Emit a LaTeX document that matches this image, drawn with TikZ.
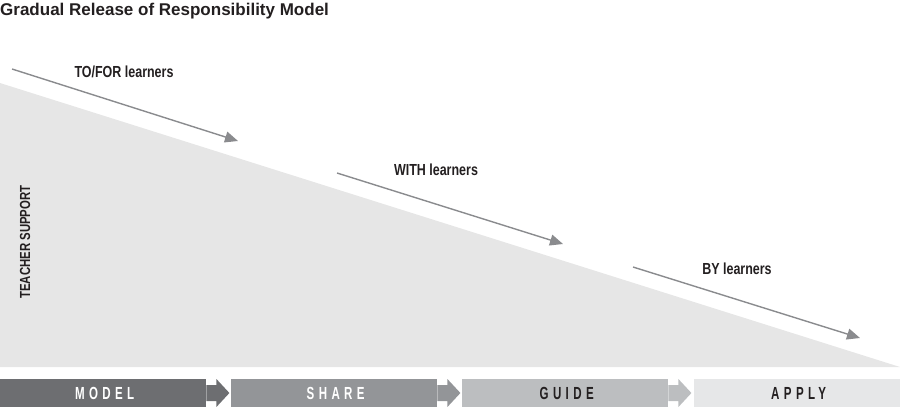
\documentclass[tikz,border=0pt]{standalone}
\usepackage{fontspec}
\setmainfont{Liberation Sans}[FakeStretch=0.78]
\newfontfamily\titlefont{Liberation Sans}
\newfontfamily\stepfont{Liberation Sans}[FakeStretch=0.66,LetterSpace=25]
\usetikzlibrary{arrows.meta}
\definecolor{tri}{HTML}{E6E6E6}
\definecolor{cmodel}{HTML}{6D6E71}
\definecolor{cshare}{HTML}{939598}
\definecolor{cguide}{HTML}{BCBEC0}
\definecolor{capply}{HTML}{E6E7E8}
\definecolor{arr}{HTML}{8A8B8E}
\definecolor{ink}{HTML}{231F20}
\tikzset{
  stepbox/.style={minimum width=206pt, minimum height=28pt, inner sep=0pt, anchor=west,
    font=\stepfont\bfseries\fontsize{17.5}{17.5}\selectfont},
  lbl/.style={font=\bfseries\fontsize{16}{17}\selectfont, inner sep=0pt, text=ink},
  flow/.style={draw=arr, line width=1.4pt, -{Triangle[length=13pt,width=11pt]}},
}
\begin{document}
\begin{tikzpicture}[x=1pt,y=-1pt]
\useasboundingbox (0,0) rectangle (900,407);
% triangle
\fill[tri] (0,83) -- (900,367) -- (0,367) -- cycle;
% title
\node[anchor=north west, inner sep=0pt, text=ink, font=\titlefont\bfseries\fontsize{17}{18}\selectfont] (title) at (0,3) {Gradual Release of Responsibility Model};
% teacher support
\node[lbl, rotate=90, font=\bfseries\fontsize{14.6}{15}\selectfont] (ts) at (25,242) {TEACHER SUPPORT};
% flow arrows
\coordinate (a1s) at (12,69);
\coordinate (a1e) at (238,141);
\coordinate (a2s) at (337,173);
\coordinate (a2e) at (563,244);
\coordinate (a3s) at (633,267);
\coordinate (a3e) at (860,338);
\draw[flow] (a1s) -- (a1e);
\draw[flow] (a2s) -- (a2e);
\draw[flow] (a3s) -- (a3e);
\node[lbl] (l1) at (124,72) {TO/FOR learners};
\node[lbl] (l2) at (436,170) {WITH learners};
\node[lbl] (l3) at (737,269) {BY learners};
% step boxes
\node[stepbox, fill=cmodel, text=white] (model) at (0,393) {\hspace{3pt}MODEL};
\node[stepbox, fill=cshare, text=white] (share) at (231,393) {\hspace{3pt}SHARE};
\node[stepbox, fill=cguide, text=ink] (guide) at (462,393) {\hspace{3pt}GUIDE};
\node[stepbox, fill=capply, text=ink] (apply) at (694,393) {\hspace{3pt}APPLY};
% connectors between boxes
\foreach \b/\c in {model/cmodel, share/cshare, guide/cguide}{
  \fill[\c] (\b.east) ++(0,-8) -- ++(10,0) -- ++(0,-6) -- ++(13,14) -- ++(-13,14) -- ++(0,-6) -- ++(-10,0) -- cycle;
}
\end{tikzpicture}
\end{document}
